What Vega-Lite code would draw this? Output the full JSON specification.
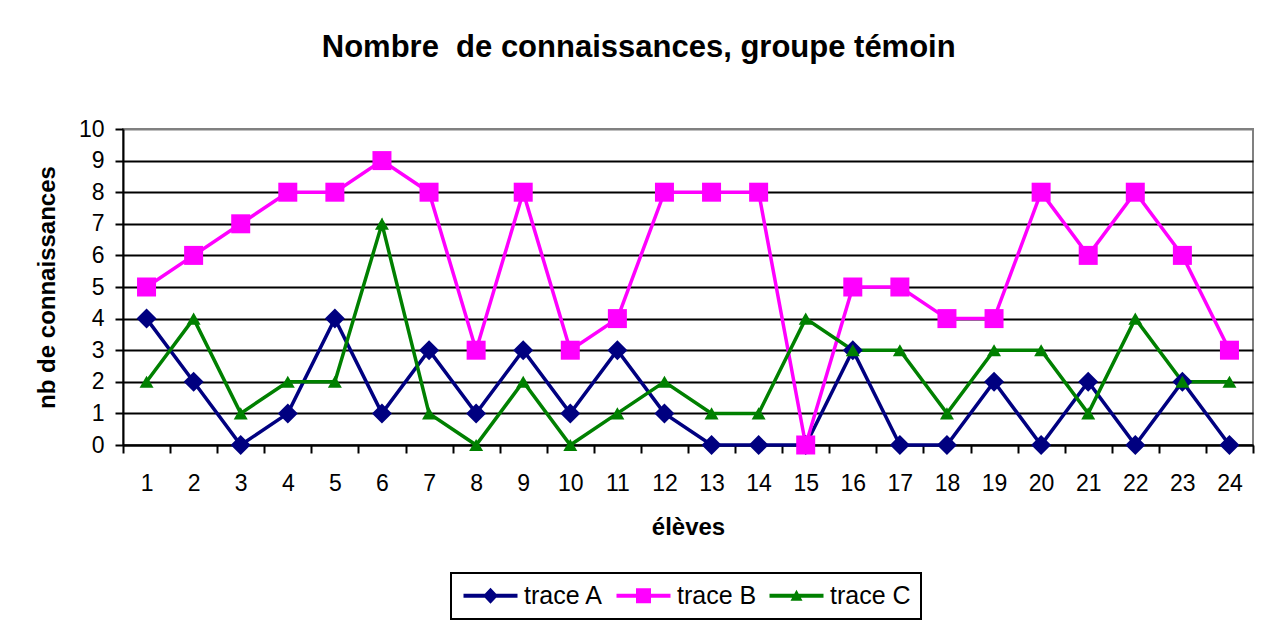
{
  "$schema": "https://vega.github.io/schema/vega-lite/v6.json",
  "width": 1130,
  "height": 316,
  "autosize": {"type": "none"},
  "padding": {"left": 123, "top": 129, "right": 18, "bottom": 179},
  "background": "white",
  "title": {"text": "Nombre \u00a0de connaissances, groupe témoin", "font": "Liberation Sans", "fontSize": 31, "fontWeight": "bold", "anchor": "middle", "frame": "bounds", "baseline": "alphabetic", "offset": 30, "dx": -6, "color": "black"},
  "config": {"view": {"stroke": "#808080", "strokeWidth": 2}},
  "data": {"values": [
    {"eleve": 1, "serie": "trace A", "n": 4}, {"eleve": 2, "serie": "trace A", "n": 2}, {"eleve": 3, "serie": "trace A", "n": 0}, {"eleve": 4, "serie": "trace A", "n": 1},
    {"eleve": 5, "serie": "trace A", "n": 4}, {"eleve": 6, "serie": "trace A", "n": 1}, {"eleve": 7, "serie": "trace A", "n": 3}, {"eleve": 8, "serie": "trace A", "n": 1},
    {"eleve": 9, "serie": "trace A", "n": 3}, {"eleve": 10, "serie": "trace A", "n": 1}, {"eleve": 11, "serie": "trace A", "n": 3}, {"eleve": 12, "serie": "trace A", "n": 1},
    {"eleve": 13, "serie": "trace A", "n": 0}, {"eleve": 14, "serie": "trace A", "n": 0}, {"eleve": 15, "serie": "trace A", "n": 0}, {"eleve": 16, "serie": "trace A", "n": 3},
    {"eleve": 17, "serie": "trace A", "n": 0}, {"eleve": 18, "serie": "trace A", "n": 0}, {"eleve": 19, "serie": "trace A", "n": 2}, {"eleve": 20, "serie": "trace A", "n": 0},
    {"eleve": 21, "serie": "trace A", "n": 2}, {"eleve": 22, "serie": "trace A", "n": 0}, {"eleve": 23, "serie": "trace A", "n": 2}, {"eleve": 24, "serie": "trace A", "n": 0},
    {"eleve": 1, "serie": "trace B", "n": 5}, {"eleve": 2, "serie": "trace B", "n": 6}, {"eleve": 3, "serie": "trace B", "n": 7}, {"eleve": 4, "serie": "trace B", "n": 8},
    {"eleve": 5, "serie": "trace B", "n": 8}, {"eleve": 6, "serie": "trace B", "n": 9}, {"eleve": 7, "serie": "trace B", "n": 8}, {"eleve": 8, "serie": "trace B", "n": 3},
    {"eleve": 9, "serie": "trace B", "n": 8}, {"eleve": 10, "serie": "trace B", "n": 3}, {"eleve": 11, "serie": "trace B", "n": 4}, {"eleve": 12, "serie": "trace B", "n": 8},
    {"eleve": 13, "serie": "trace B", "n": 8}, {"eleve": 14, "serie": "trace B", "n": 8}, {"eleve": 15, "serie": "trace B", "n": 0}, {"eleve": 16, "serie": "trace B", "n": 5},
    {"eleve": 17, "serie": "trace B", "n": 5}, {"eleve": 18, "serie": "trace B", "n": 4}, {"eleve": 19, "serie": "trace B", "n": 4}, {"eleve": 20, "serie": "trace B", "n": 8},
    {"eleve": 21, "serie": "trace B", "n": 6}, {"eleve": 22, "serie": "trace B", "n": 8}, {"eleve": 23, "serie": "trace B", "n": 6}, {"eleve": 24, "serie": "trace B", "n": 3},
    {"eleve": 1, "serie": "trace C", "n": 2}, {"eleve": 2, "serie": "trace C", "n": 4}, {"eleve": 3, "serie": "trace C", "n": 1}, {"eleve": 4, "serie": "trace C", "n": 2},
    {"eleve": 5, "serie": "trace C", "n": 2}, {"eleve": 6, "serie": "trace C", "n": 7}, {"eleve": 7, "serie": "trace C", "n": 1}, {"eleve": 8, "serie": "trace C", "n": 0},
    {"eleve": 9, "serie": "trace C", "n": 2}, {"eleve": 10, "serie": "trace C", "n": 0}, {"eleve": 11, "serie": "trace C", "n": 1}, {"eleve": 12, "serie": "trace C", "n": 2},
    {"eleve": 13, "serie": "trace C", "n": 1}, {"eleve": 14, "serie": "trace C", "n": 1}, {"eleve": 15, "serie": "trace C", "n": 4}, {"eleve": 16, "serie": "trace C", "n": 3},
    {"eleve": 17, "serie": "trace C", "n": 3}, {"eleve": 18, "serie": "trace C", "n": 1}, {"eleve": 19, "serie": "trace C", "n": 3}, {"eleve": 20, "serie": "trace C", "n": 3},
    {"eleve": 21, "serie": "trace C", "n": 1}, {"eleve": 22, "serie": "trace C", "n": 4}, {"eleve": 23, "serie": "trace C", "n": 2}, {"eleve": 24, "serie": "trace C", "n": 2}
  ]},
  "encoding": {
    "x": {
      "field": "eleve", "type": "ordinal", "title": "élèves",
      "scale": {"type": "band", "paddingInner": 0, "paddingOuter": 0},
      "axis": {"tickBand": "extent", "tickSize": 8, "tickColor": "black", "tickWidth": 2, "domainColor": "black", "domainWidth": 2,
        "labelFontSize": 23, "labelFont": "Liberation Sans", "labelColor": "black", "labelPadding": 19, "labelAngle": 0,
        "titleFontSize": 24, "titleFont": "Liberation Sans", "titleFontWeight": "bold", "titleColor": "black", "titlePadding": 20, "grid": false}
    },
    "y": {
      "field": "n", "type": "quantitative", "title": "nb de connaissances",
      "scale": {"domain": [0, 10], "nice": false},
      "axis": {"values": [0,1,2,3,4,5,6,7,8,9,10], "tickSize": 8, "tickColor": "black", "tickWidth": 2, "domainColor": "black", "domainWidth": 2,
        "grid": true, "gridColor": {"condition": {"test": "datum.value === 10", "value": "#808080"}, "value": "black"}, "gridWidth": 2, "gridOpacity": 1,
        "labelFontSize": 23, "labelFont": "Liberation Sans", "labelColor": "black", "labelPadding": 11,
        "titleFontSize": 24, "titleFont": "Liberation Sans", "titleFontWeight": "bold", "titleColor": "black", "titlePadding": 19}
    },
    "color": {
      "field": "serie", "type": "nominal",
      "scale": {"domain": ["trace A", "trace B", "trace C"], "range": ["#000080", "#FF00FF", "#008000"]},
      "legend": {
        "orient": "none", "legendX": 328, "legendY": 444, "direction": "horizontal", "title": null, "padding": 10,
        "strokeColor": "black", "labelFontSize": 25, "labelFont": "Liberation Sans", "labelColor": "black",
        "labelOffset": 38, "symbolSize": 400, "columnPadding": 10, "symbolStrokeWidth": 0, "symbolOpacity": 1,
        "encode": {"legend": {"update": {"stroke": {"value": "black"}, "strokeWidth": {"value": 2}}}}
      }
    }
  },
  "layer": [
    {
      "transform": [{"filter": {"field": "serie", "equal": "aucune"}}],
      "mark": {"type": "point", "filled": true, "opacity": 1},
      "encoding": {
        "shape": {
          "field": "serie", "type": "nominal",
          "scale": {"domain": ["trace A", "trace B", "trace C"], "range": [
            "M-1,-0.2H4.4V0.2H-1Z M1.7,-0.8L2.45,0L1.7,0.8L0.95,0Z",
            "M-1,-0.2H4.4V0.2H-1Z M0.95,-0.75H2.45V0.75H0.95Z",
            "M-1,-0.2H4.4V0.2H-1Z M1.7,-0.6L2.3,0.5H1.1Z"
          ]}
        }
      }
    },
    {"mark": {"type": "line", "strokeWidth": 3.5}},
    {
      "transform": [{"filter": {"field": "serie", "equal": "trace A"}}],
      "mark": {"type": "point", "filled": true, "opacity": 1, "shape": "diamond", "size": 400}
    },
    {
      "transform": [{"filter": {"field": "serie", "equal": "trace B"}}],
      "mark": {"type": "point", "filled": true, "opacity": 1, "shape": "square", "size": 361}
    },
    {
      "transform": [{"filter": {"field": "serie", "equal": "trace C"}}],
      "mark": {"type": "point", "filled": true, "opacity": 1, "shape": "triangle-up", "size": 196}
    }
  ]
}
